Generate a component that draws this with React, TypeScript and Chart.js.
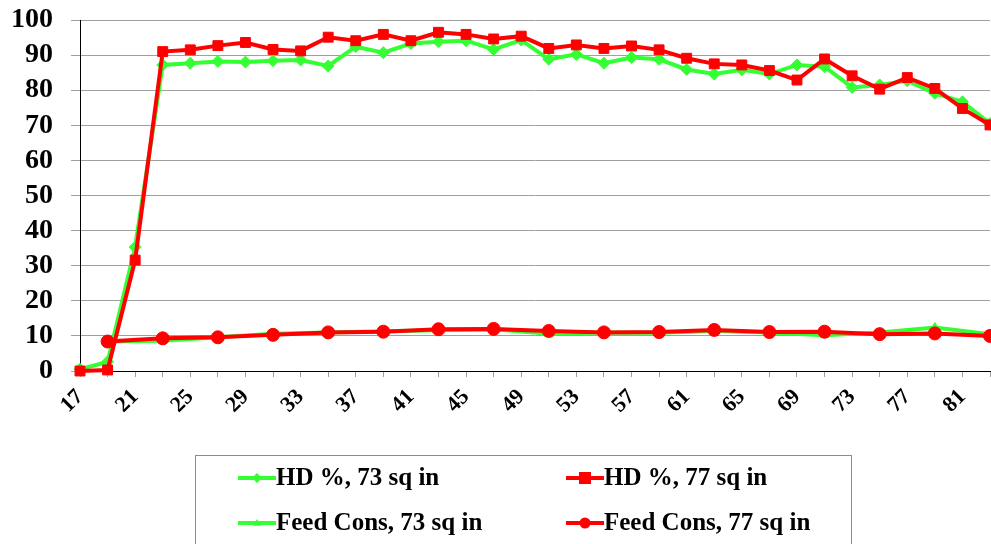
import React, { useEffect, useRef } from "react";
import { Chart, registerables } from "chart.js";

Chart.register(...registerables);

const weeks = [17, 19, 21, 23, 25, 27, 29, 31, 33, 35, 37, 39, 41, 43, 45, 47, 49, 51, 53, 55, 57, 59, 61, 63, 65, 67, 69, 71, 73, 75, 77, 79, 81, 83];

const hd73 = [0.5, 2.6, 35.3, 87.2, 87.7, 88.2, 88.0, 88.4, 88.6, 86.9, 92.4, 90.7, 93.3, 93.8, 94.1, 91.6, 94.3, 88.8, 90.2, 87.7, 89.3, 88.8, 85.9, 84.6, 85.8, 84.6, 87.2, 86.7, 80.8, 81.5, 82.7, 79.1, 76.7, 70.5];
const hd77 = [0, 0.3, 31.6, 91.0, 91.5, 92.7, 93.6, 91.6, 91.2, 95.1, 94.1, 95.9, 94.1, 96.5, 95.9, 94.6, 95.4, 91.9, 92.9, 91.9, 92.6, 91.5, 89.1, 87.5, 87.2, 85.6, 82.9, 88.9, 84.1, 80.3, 83.6, 80.5, 74.8, 70.1];
const feed73 = [null, 8.4, null, 8.6, null, 9.6, null, 10.6, null, 11.0, null, 11.3, null, 11.6, null, 11.9, null, 10.6, null, 11.0, null, 10.9, null, 11.4, null, 11.0, null, 10.2, null, 11.0, null, 12.4, null, 10.5];
const feed77 = [null, 8.4, null, 9.3, null, 9.6, null, 10.3, null, 11.0, null, 11.2, null, 11.9, null, 12.0, null, 11.4, null, 11.0, null, 11.1, null, 11.7, null, 11.1, null, 11.2, null, 10.5, null, 10.7, null, 10.0];

const seriesNames = ["HD %, 73 sq in", "HD %, 77 sq in", "Feed Cons, 73 sq in", "Feed Cons, 77 sq in"];
const yTicks = [0, 10, 20, 30, 40, 50, 60, 70, 80, 90, 100];

const GREEN = "#33ff33";
const RED = "#ff0000";
const FONT = "'Liberation Serif', 'Times New Roman', serif";

function drawMarker(ctx: CanvasRenderingContext2D, style: string, x: number, y: number, r: number) {
  ctx.beginPath();
  if (style === "rect") {
    ctx.rect(x - r, y - r, 2 * r, 2 * r);
  } else if (style === "rectRot") {
    ctx.moveTo(x, y - r);
    ctx.lineTo(x + r, y);
    ctx.lineTo(x, y + r);
    ctx.lineTo(x - r, y);
    ctx.closePath();
  } else if (style === "triangle") {
    ctx.moveTo(x, y - r);
    ctx.lineTo(x + r, y + r * 0.7);
    ctx.lineTo(x - r, y + r * 0.7);
    ctx.closePath();
  } else {
    ctx.arc(x, y, r, 0, Math.PI * 2);
  }
  ctx.fill();
}

const legendPlugin = {
  id: "boxLegend",
  afterDraw(chart: any) {
    const ctx = chart.ctx;
    ctx.save();
    ctx.strokeStyle = "#8c8c8c";
    ctx.lineWidth = 1;
    ctx.strokeRect(195.5, 455.5, 656, 120);
    const items = [
      { ds: 0, x: 238, y: 478 },
      { ds: 1, x: 566, y: 478 },
      { ds: 2, x: 238, y: 523 },
      { ds: 3, x: 566, y: 523 },
    ];
    ctx.font = `bold 25px ${FONT}`;
    ctx.textBaseline = "middle";
    ctx.textAlign = "left";
    for (const it of items) {
      const d = chart.data.datasets[it.ds];
      ctx.strokeStyle = d.borderColor;
      ctx.lineWidth = 4;
      ctx.beginPath();
      ctx.moveTo(it.x, it.y);
      ctx.lineTo(it.x + 38, it.y);
      ctx.stroke();
      ctx.fillStyle = d.borderColor;
      drawMarker(ctx, d.pointStyle, it.x + 19, it.y, d.pointRadius - 1);
      ctx.fillStyle = "#000";
      ctx.fillText(d.label, it.x + 38, it.y + 1);
    }
    ctx.restore();
  },
};

export default function App() {
  const ref = useRef<HTMLCanvasElement>(null);
  useEffect(() => {
    if (!ref.current) return;
    const mk = (label: string, data: any[], color: string, pointStyle: string, radius: number, order: number) => ({
      label,
      data,
      borderColor: color,
      backgroundColor: color,
      pointBackgroundColor: color,
      pointBorderColor: color,
      pointStyle,
      pointRadius: radius,
      pointBorderWidth: 1,
      borderWidth: 4,
      tension: 0,
      spanGaps: true,
      order,
    });
    const chart = new Chart(ref.current, {
      type: "line",
      data: {
        labels: weeks.map(String),
        datasets: [
          mk(seriesNames[0], hd73, GREEN, "rectRot", 6, 3),
          mk(seriesNames[1], hd77, RED, "rect", 7, 1),
          mk(seriesNames[2], feed73, GREEN, "triangle", 5, 4),
          mk(seriesNames[3], feed77, RED, "circle", 6.5, 2),
        ],
      },
      options: {
        animation: false,
        responsive: false,
        devicePixelRatio: 1,
        clip: false as any,
        layout: { autoPadding: false, padding: { top: 20, right: 1, left: 0, bottom: 0 } },
        plugins: { legend: { display: false }, tooltip: { enabled: false } },
        scales: {
          x: {
            offset: false,
            grid: { drawOnChartArea: false, drawTicks: true, tickLength: 6, color: "#a0a0a0" },
            border: { color: "#000", width: 1 },
            ticks: {
              autoSkip: false,
              maxRotation: 45,
              minRotation: 45,
              padding: 7,
              color: "#000",
              font: { family: FONT, size: 22, weight: "bold" },
              callback: (_v: any, i: number) => (i % 2 === 0 ? String(weeks[i]) : ""),
            },
            afterFit: (s: any) => {
              s.height = 173;
              s.paddingRight = 0;
              s.paddingLeft = 0;
            },
          },
          y: {
            min: 0,
            max: 100,
            afterBuildTicks: (s: any) => {
              s.ticks = yTicks.map((v) => ({ value: v }));
            },
            grid: { color: "#a0a0a0", tickLength: 9, drawTicks: true },
            border: { color: "#000", width: 1 },
            ticks: {
              autoSkip: false,
              padding: 18,
              color: "#000",
              font: { family: FONT, size: 28, weight: "bold" },
            },
            afterFit: (s: any) => {
              s.width = 80;
              s.paddingTop = 0;
              s.paddingBottom = 0;
            },
          },
        },
      },
      plugins: [legendPlugin],
    } as any);
    return () => chart.destroy();
  }, []);
  return (
    <div style={{ position: "fixed", left: 0, top: 0, width: 991, height: 544, background: "#fff" }}>
      <canvas ref={ref} width={991} height={544} style={{ display: "block" }} />
    </div>
  );
}
